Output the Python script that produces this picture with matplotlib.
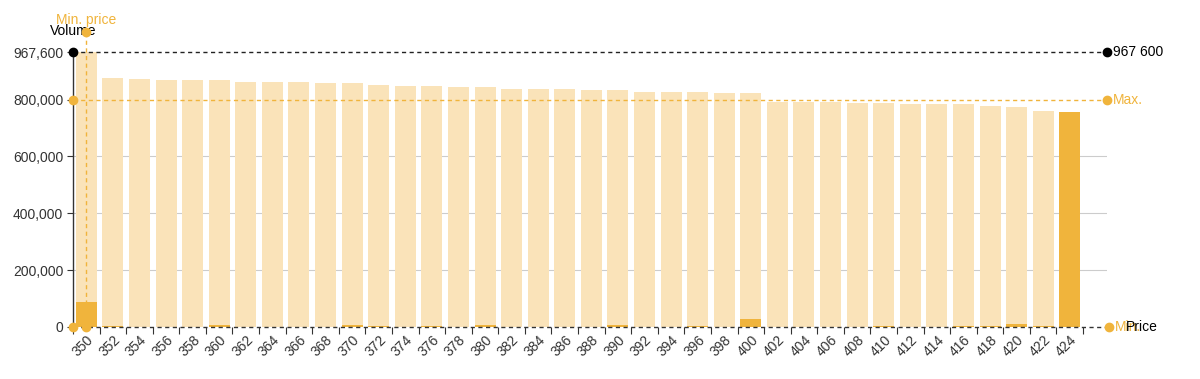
import matplotlib.pyplot as plt
import numpy as np

plt.rcParams['font.family'] = ['Liberation Sans', 'DejaVu Sans']

# price levels (categories)
prices = [350, 352, 354, 356, 358, 360, 362, 364, 366, 368,
          370, 372, 374, 376, 378, 380, 382, 384, 386, 388,
          390, 392, 394, 396, 398, 400, 402, 404, 406, 408,
          410, 412, 414, 416, 418, 420, 422, 424]

# light bars: total volume
total_volume = [967600, 877000, 872700, 870000, 870000, 869000, 862000, 861000, 861000, 860000,
                859000, 852600, 848000, 848000, 845600, 845600, 838500, 837500, 837500, 835000,
                835000, 828000, 827000, 827000, 823500, 822300, 792800, 791700, 790600, 789300,
                789000, 784700, 784700, 784000, 778800, 774100, 760000, 755400]

# dark bars: volume at that price
price_volume = [88000, 3000, 0, 0, 0, 6000, 0, 0, 0, 0,
                6000, 3000, 0, 2000, 0, 6000, 0, 0, 0, 0,
                7000, 0, 0, 2500, 0, 27000, 1500, 0, 0, 0,
                3000, 0, 0, 3500, 3000, 10000, 3000, 755400]

grid_levels = [200000, 400000, 600000]
max_level = 800000
top_level = 967600
ytick_values = [0, 200000, 400000, 600000, 800000, 967600]

LIGHT = '#FAE3B9'
ORANGE = '#F0B43C'
DARK = '#333333'

fig = plt.figure(figsize=(12, 3.79), dpi=100)
ax = fig.add_axes([73 / 1200, 52 / 379, 1034 / 1200, 275 / 379])

x = np.arange(len(prices))
x_end = 38.4

for v in grid_levels:
    ax.axhline(v, color='#cccccc', lw=0.8, zorder=1)

ax.bar(x, total_volume, width=0.79, color=LIGHT, zorder=2)
ax.bar(x, price_volume, width=0.79, color=ORANGE, zorder=3)

ax.set_xlim(-0.5, x_end)
ax.set_ylim(0, top_level)

# reference lines
dash = (0, (3, 2.5))
ax.plot([-0.5, x_end], [top_level, top_level], color='#222222', lw=1, ls=dash, zorder=4, clip_on=False)
ax.plot([-0.5, x_end], [max_level, max_level], color=ORANGE, lw=1, ls=dash, zorder=4, clip_on=False)
ax.plot([-0.5, x_end + 0.08], [0, 0], color=DARK, lw=1, ls=dash, zorder=4, clip_on=False)
trans = ax.get_xaxis_transform()
ax.plot([0, 0], [0, 1.074], color=ORANGE, lw=1, ls=dash, transform=trans, zorder=4, clip_on=False)

# dots
ms = 6
ax.plot([-0.5], [top_level], 'o', color='black', ms=ms, zorder=6, clip_on=False)
ax.plot([x_end], [top_level], 'o', color='black', ms=ms, zorder=6, clip_on=False)
ax.plot([-0.5, x_end], [max_level, max_level], 'o', color=ORANGE, ms=ms, ls='none', zorder=6, clip_on=False)
ax.plot([-0.5, 0, x_end + 0.08], [0, 0, 0], 'o', color=ORANGE, ms=ms, ls='none', zorder=6, clip_on=False)
ax.plot([0], [1.074], 'o', color=ORANGE, ms=ms, transform=trans, zorder=6, clip_on=False)

# labels at line ends
ax.annotate('967 600', (x_end, top_level), xytext=(4, 0), textcoords='offset points',
            va='center', ha='left', fontsize=10, color='black', annotation_clip=False)
ax.annotate('Max.', (x_end, max_level), xytext=(4, 0), textcoords='offset points',
            va='center', ha='left', fontsize=10, color=ORANGE, annotation_clip=False)
ax.annotate('Min.', (x_end + 0.08, 0), xytext=(4, 0), textcoords='offset points',
            va='center', ha='left', fontsize=10, color=ORANGE, annotation_clip=False)
ax.annotate('Price', (x_end + 0.08, 0), xytext=(12, 0), textcoords='offset points',
            va='center', ha='left', fontsize=10, color='black', annotation_clip=False)
ax.text(-0.5, 1.078, 'Volume', transform=trans, ha='center', va='center', fontsize=10, color='black')
ax.text(0, 1.116, 'Min. price', transform=trans, ha='center', va='center', fontsize=10, color=ORANGE)

# axes styling
for side in ['top', 'right', 'bottom']:
    ax.spines[side].set_visible(False)
ax.spines['left'].set_color(DARK)
ax.spines['left'].set_linewidth(1)

ax.set_yticks(ytick_values)
ax.set_yticklabels([f'{v:,}' for v in ytick_values])
ax.tick_params(axis='y', length=4, color=DARK, labelsize=10, labelcolor=DARK, pad=3)

ax.set_xticks(x)
ax.set_xticklabels([str(p) for p in prices], rotation=45, ha='right', rotation_mode='anchor')
ax.set_xticks(np.arange(-0.5, len(prices)), minor=True)
ax.tick_params(axis='x', which='major', length=0, labelsize=10, labelcolor=DARK, pad=4)
ax.tick_params(axis='x', which='minor', length=5, color=DARK, width=0.8)

fig.savefig('out.png', dpi=100)
